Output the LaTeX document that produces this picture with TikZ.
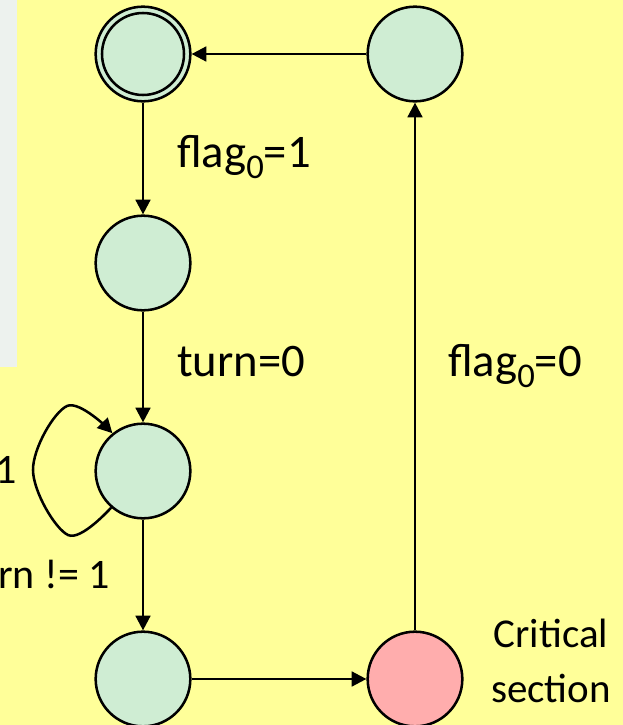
\documentclass[tikz,border=0pt]{standalone}
\usepackage{fontspec}
\setmainfont{Carlito}
\usetikzlibrary{arrows.meta}
\definecolor{bgyellow}{HTML}{FFFF99}
\definecolor{panelgray}{HTML}{EDF2EE}
\definecolor{stategreen}{HTML}{CFEDD3}
\definecolor{critpink}{HTML}{FFADAD}
\newcommand\subz[1]{\raisebox{-0.25em}{\fontsize{26}{26}\selectfont #1}}
\begin{document}
\begin{tikzpicture}[x=0.75pt,y=-0.75pt,
  state/.style={circle,draw=black,line width=1.9pt,fill=stategreen,minimum size=71pt,inner sep=0pt},
  crit/.style={state,fill=critpink},
  arr/.style={line width=1.9pt,-{Triangle[length=11pt,width=11pt]}},
  lbl/.style={inner sep=0pt,font=\fontsize{35}{42}\selectfont},
  sidelbl/.style={inner sep=0pt,font=\fontsize{31.5}{38}\selectfont},
  critlbl/.style={inner sep=0pt,font=\fontsize{30.75}{36}\selectfont}]
\useasboundingbox (0,0) rectangle (623,725);
\clip (0,0) rectangle (623,725);
\fill[bgyellow] (0,0) rectangle (623,725);
\fill[panelgray] (0,0) rectangle (17,367);
% states
\node[state] (A) at (143,54) {};
\draw[line width=1.9pt] (A.center) circle[radius=30.75pt];
\node[state] (B) at (143,263) {};
\node[state] (C) at (143,471) {};
\node[state] (D) at (143,679) {};
\node[crit]  (E) at (415,679) {};
\node[state] (F) at (415,54) {};
% transitions
\draw[arr] (A) -- (B);
\draw[arr] (B) -- (C);
\draw[arr] (C) -- (D);
\draw[arr] (D) -- (E);
\draw[arr] (E) -- (F);
\draw[arr] (F) -- (A);
\draw[arr] plot[smooth,tension=0.6] coordinates {(C.229) (68,535) (33,470) (67,406) (C.129)};
% labels
\node[lbl,anchor=base west] (l1) at (177,167) {flag\subz{0}=1};
\node[lbl,anchor=base west] (l2) at (177,376) {turn=0};
\node[lbl,anchor=base west] (l3) at (448,376) {flag\subz{0}=0};
\node[sidelbl,anchor=base east] (l4) at (17,483) {1};
\node[sidelbl,anchor=base east] (l5) at (110,588) {rn != 1};
\node[critlbl,anchor=base] (c1) at (551,647) {Critical};
\node[critlbl,anchor=base] (c2) at (551,702) {section};
\end{tikzpicture}
\end{document}
